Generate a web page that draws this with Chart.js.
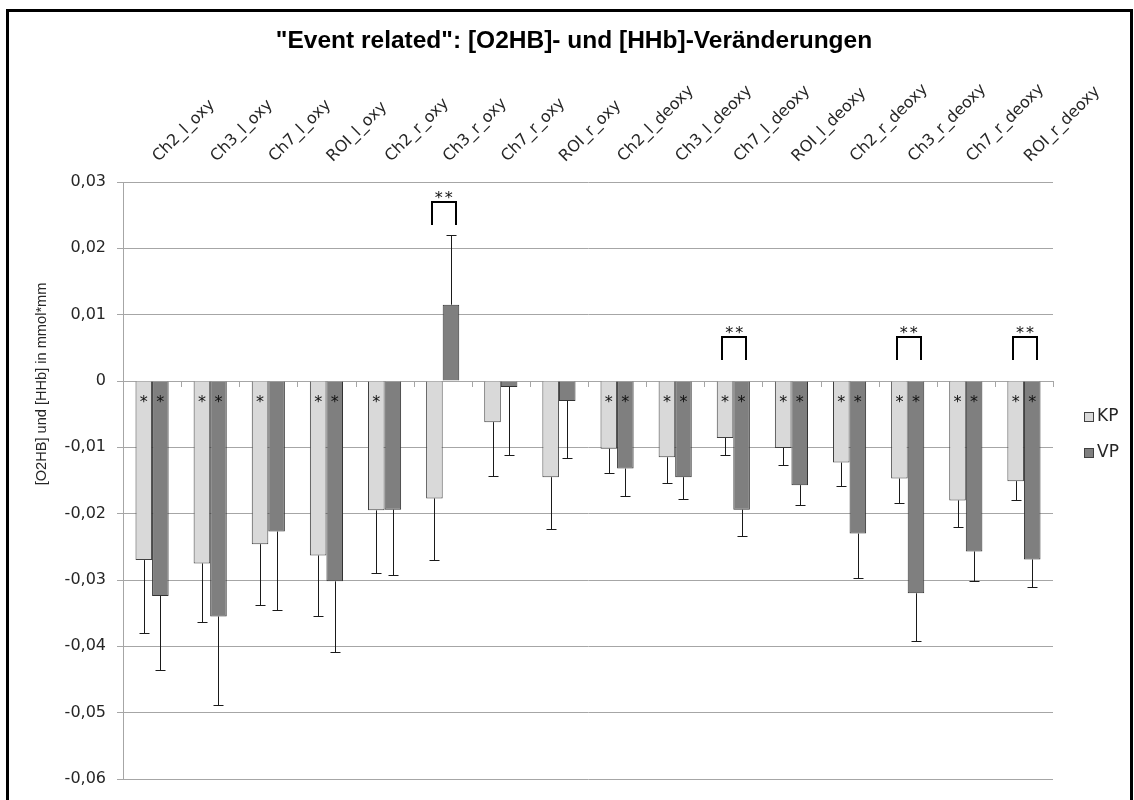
<!DOCTYPE html>
<html>
<head>
<meta charset="utf-8">
<script src="https://cdn.jsdelivr.net/npm/chart.js@4.4.1/dist/chart.umd.min.js"></script>
<style>
  html, body { margin: 0; padding: 0; background: #fff; }
  #wrap { width: 1134px; height: 800px; position: relative; }
</style>
</head>
<body>
<div id="wrap"><canvas id="chart" width="1134" height="800"></canvas></div>
<script>
// categories + values
const categories = [
  "Ch2_l_oxy","Ch3_l_oxy","Ch7_l_oxy","ROI_l_oxy","Ch2_r_oxy","Ch3_r_oxy","Ch7_r_oxy","ROI_r_oxy",
  "Ch2_l_deoxy","Ch3_l_deoxy","Ch7_l_deoxy","ROI_l_deoxy","Ch2_r_deoxy","Ch3_r_deoxy","Ch7_r_deoxy","ROI_r_deoxy"
];
const kpValues = [-0.0270,-0.0275,-0.0246,-0.0263,-0.0195,-0.0177,-0.0062,-0.0145,
                  -0.0102,-0.0115,-0.0086,-0.0101,-0.0123,-0.0147,-0.0180,-0.0151];
const vpValues = [-0.0324,-0.0355,-0.0227,-0.0302,-0.0194, 0.0115,-0.0009,-0.0030,
                  -0.0132,-0.0145,-0.0194,-0.0157,-0.0230,-0.0320,-0.0257,-0.0269];
// error bar length (one-sided, away from zero)
const kpErrors = [0.0110,0.0089,0.0092,0.0091,0.0094,0.0093,0.0081,0.0078,
                  0.0036,0.0039,0.0026,0.0025,0.0035,0.0037,0.0040,0.0029];
const vpErrors = [0.0111,0.0133,0.0118,0.0107,0.0098,0.0105,0.0102,0.0086,
                  0.0042,0.0033,0.0039,0.0030,0.0067,0.0072,0.0045,0.0042];
// single star inside the bar
const kpStars = [1,1,1,1,1,0,0,0,1,1,1,1,1,1,1,1];
const vpStars = [1,1,0,1,0,0,0,0,1,1,1,1,1,1,1,1];
// "**" brackets between KP and VP
const bracketCats = [5, 10, 13, 15];
const bracketTops = [0.027, 0.0066, 0.0066, 0.0066];

const Y_MIN = -0.06, Y_MAX = 0.03, Y_STEP = 0.01;
const seriesNames = ["KP", "VP"];
const seriesFill = ["#d9d9d9", "#7f7f7f"];
const errByDataset = [kpErrors, vpErrors];
const starsByDataset = [kpStars, vpStars];
const chartTitle = "\"Event related\": [O2HB]- und [HHb]-Veränderungen";
const yTitle = "[O2HB] und [HHb] in mmol*mm";

const GRID = "#a6a6a6";
const TXT = "#262626";

function fmtTick(v){
  if (Math.abs(v) < 1e-9) return "0";
  return v.toFixed(2).replace(".", ",");
}

const extrasPlugin = {
  id: "extras",
  afterDatasetsDraw(chart){
    const ctx = chart.ctx;
    const x = chart.scales.x, y = chart.scales.y;
    const zeroY = y.getPixelForValue(0);
    const catW = x.getPixelForValue(1) - x.getPixelForValue(0);

    ctx.save();
    // tick marks on the zero line between categories
    ctx.strokeStyle = GRID; ctx.lineWidth = 1;
    for (let i = 0; i <= categories.length; i++){
      const bx = Math.round(x.getPixelForValue(0) - catW/2 + i*catW) + 0.5;
      ctx.beginPath(); ctx.moveTo(bx, zeroY); ctx.lineTo(bx, zeroY + 6); ctx.stroke();
    }

    // error bars
    ctx.strokeStyle = "#1a1a1a"; ctx.lineWidth = 1;
    chart.data.datasets.forEach((ds, di) => {
      const meta = chart.getDatasetMeta(di);
      meta.data.forEach((bar, i) => {
        const v = ds.data[i];
        const e = errByDataset[di][i];
        const end = v >= 0 ? v + e : v - e;
        const bx = Math.round(bar.x) + 0.5;
        const y0 = y.getPixelForValue(v);
        const y1 = Math.round(y.getPixelForValue(end)) + 0.5;
        ctx.beginPath();
        ctx.moveTo(bx, y0); ctx.lineTo(bx, y1);
        ctx.moveTo(bx - 5, y1); ctx.lineTo(bx + 5, y1);
        ctx.stroke();
      });
    });

    // stars inside bars
    ctx.fillStyle = "#111";
    ctx.font = "16px 'DejaVu Sans'";
    ctx.textAlign = "center"; ctx.textBaseline = "alphabetic";
    chart.data.datasets.forEach((ds, di) => {
      const meta = chart.getDatasetMeta(di);
      meta.data.forEach((bar, i) => {
        if (starsByDataset[di][i]) ctx.fillText("*", bar.x, zeroY + 26);
      });
    });

    // significance brackets
    ctx.strokeStyle = "#000"; ctx.lineWidth = 2;
    bracketCats.forEach((c, k) => {
      const cx = x.getPixelForValue(c) + 1;
      const top = Math.round(y.getPixelForValue(bracketTops[k]));
      const l = Math.round(cx - 12), r = Math.round(cx + 12);
      ctx.beginPath();
      ctx.moveTo(l, top + 23); ctx.lineTo(l, top); ctx.lineTo(r, top); ctx.lineTo(r, top + 23);
      ctx.stroke();
      ctx.fillText("*", cx - 5, top + 1);
      ctx.fillText("*", cx + 5, top + 1);
    });
    ctx.restore();
  },
  afterDraw(chart){
    const ctx = chart.ctx;
    const area = chart.chartArea;

    // chart title
    ctx.save();
    ctx.fillStyle = "#000";
    ctx.font = "bold 24.5px 'Liberation Sans'";
    ctx.textAlign = "center"; ctx.textBaseline = "alphabetic";
    ctx.fillText(chartTitle, 574, 47.5);
    ctx.restore();

    // y axis title
    ctx.save();
    ctx.translate(42, area.top + 202);
    ctx.rotate(-Math.PI/2);
    ctx.fillStyle = TXT;
    ctx.font = "14.6px 'Liberation Sans'";
    ctx.textAlign = "center"; ctx.textBaseline = "middle";
    ctx.fillText(yTitle, 0, 0);
    ctx.restore();

    // legend
    ctx.save();
    ctx.font = "17px 'DejaVu Sans'";
    ctx.textBaseline = "middle"; ctx.textAlign = "left";
    seriesNames.forEach((name, i) => {
      const ly = area.top + 235 + i*36;
      const lx = area.right + 31;
      ctx.fillStyle = seriesFill[i];
      ctx.fillRect(lx + 0.5, ly - 4.5, 9, 9);
      ctx.strokeStyle = "#404040"; ctx.lineWidth = 1;
      ctx.strokeRect(lx + 0.5, ly - 4.5, 9, 9);
      ctx.fillStyle = TXT;
      ctx.fillText(name, lx + 13, ly);
    });
    ctx.restore();

    // outer frame
    ctx.save();
    ctx.strokeStyle = "#000"; ctx.lineWidth = 3;
    ctx.beginPath();
    ctx.moveTo(7.5, 805); ctx.lineTo(7.5, 10.5); ctx.lineTo(1131.5, 10.5); ctx.lineTo(1131.5, 805);
    ctx.stroke();
    ctx.restore();
  }
};

const ctx = document.getElementById("chart").getContext("2d");
new Chart(ctx, {
  type: "bar",
  data: {
    labels: categories,
    datasets: [
      { label: seriesNames[0], data: kpValues, backgroundColor: seriesFill[0], borderColor: "#404040", borderWidth: 1 },
      { label: seriesNames[1], data: vpValues, backgroundColor: seriesFill[1], borderColor: "#333333", borderWidth: 1 }
    ]
  },
  options: {
    responsive: false,
    animation: false,
    devicePixelRatio: 1,
    layout: { padding: { left: 63, right: 81, top: 54.2, bottom: 21 } },
    datasets: { bar: { categoryPercentage: 0.57, barPercentage: 1.0 } },
    plugins: {
      legend: { display: false },
      tooltip: { enabled: false },
      title: { display: false }
    },
    scales: {
      x: {
        position: "top",
        grid: { display: false, drawTicks: false },
        border: { display: false },
        ticks: {
          autoSkip: false, minRotation: 45, maxRotation: 45, padding: 16, labelOffset: 17,
          color: TXT, font: { family: "'DejaVu Sans'", size: 16 }
        },
        afterFit(s){ s.height = 127.8; }
      },
      y: {
        min: Y_MIN, max: Y_MAX,
        grid: { color: GRID, lineWidth: 1, tickLength: 6 },
        border: { display: true, color: GRID },
        ticks: {
          stepSize: Y_STEP, padding: 11, color: TXT,
          font: { family: "'DejaVu Sans'", size: 16 },
          callback: (v) => fmtTick(v)
        },
        afterFit(s){ s.width = 60; }
      }
    }
  },
  plugins: [extrasPlugin]
});
</script>
</body>
</html>
